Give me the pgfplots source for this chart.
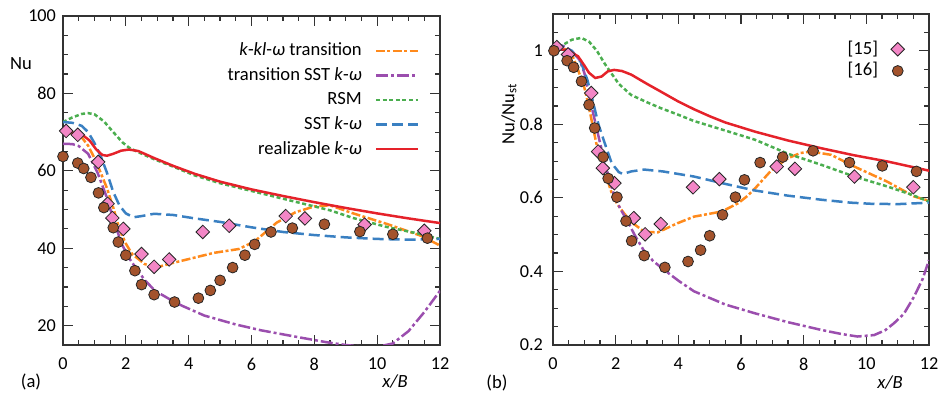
\documentclass[border=0pt]{standalone}
\usepackage{pgfplots}
\pgfplotsset{compat=1.18}
\usepackage{fontspec}
\setmainfont{Carlito}
\definecolor{cor}{HTML}{FF8A1C}
\definecolor{cpu}{HTML}{9B4EAE}
\definecolor{cgr}{HTML}{4BAE4F}
\definecolor{cbl}{HTML}{3A80C2}
\definecolor{cre}{HTML}{E5222A}
\definecolor{cpk}{HTML}{F386C6}
\definecolor{cbr}{HTML}{A3532C}
\pgfplotsset{
  myaxis/.style={
    scale only axis, clip=true,
    xmin=0, xmax=12, xtick={0,2,4,6,8,10,12},
    minor xtick={0.5,1,1.5,2.5,3,3.5,4.5,5,5.5,6.5,7,7.5,8.5,9,9.5,10.5,11,11.5},
    xtick pos=both, ytick pos=both, tick align=inside,
    major tick length=5pt, minor tick length=2.7pt,
    axis line style={black!80, line width=0.7pt},
    tick style={black!80, line width=0.6pt},
    tick label style={font=\fontsize{9.1}{11}\selectfont, /pgf/number format/assume math mode=true},
    xticklabel style={yshift=-3pt},
    legend plot pos=right,
    legend cell align=right,
    legend style={draw=none, fill=none, font=\fontsize{9.3}{11}\selectfont, column sep=6pt,
      nodes={inner sep=0.5pt, text height=7pt, text depth=2pt}},
  },
  sor/.style={cor, line width=1.25pt, dash pattern=on 4.5pt off 1.2pt on 1.5pt off 1.2pt},
  spu/.style={cpu, line width=1.25pt, dash pattern=on 6pt off 1.5pt on 1.5pt off 1.5pt},
  sgr/.style={cgr, line width=1.25pt, dash pattern=on 2pt off 1.3pt},
  sbl/.style={cbl, line width=1.25pt, dash pattern=on 5.5pt off 2.5pt},
  sre/.style={cre, line width=1.25pt},
  sdi/.style={only marks, mark=square*, mark size=2.4pt, mark options={fill=cpk, draw=black!85, line width=0.4pt, rotate=45}},
  sci/.style={only marks, mark=*, mark size=2.7pt, mark options={fill=cbr, draw=black!85, line width=0.4pt}},
}
\begin{document}
\begin{tikzpicture}[font=\fontsize{9.3}{11}\selectfont]
\useasboundingbox (0,0) rectangle (469pt,197pt);
% ---------------- (a)
\begin{axis}[myaxis, at={(31.5pt,24.5pt)}, anchor=south west,
  width=188.5pt, height=164.5pt,
  ymin=15, ymax=100, ytick={20,40,60,80,100},
  minor ytick={15,25,30,35,45,50,55,65,70,75,85,90,95},
  legend style={at={(0.962,0.938)}, anchor=north east, row sep=2.3pt},
  legend image code/.code={\draw[#1] (0pt,0pt)--(21pt,0pt);}]
\addplot[sor] coordinates {(0,69.8) (0.3,69.7) (0.6,68.6) (0.8,66.5) (1.0,63.3) (1.2,59.5) (1.4,55.5) (1.6,50.5) (1.8,44.8) (2.0,41.2) (2.2,38.5) (2.6,35.9) (3.0,35.1) (3.5,36.2) (4.2,37.6) (4.8,38.8) (5.6,39.8) (6.1,41.8) (6.5,44.5) (6.8,46.6) (7.4,49.3) (8.0,50.8) (8.5,51.1) (9.2,49.1) (10.3,46.3) (11.4,43.2) (12.0,40.7)};
\addlegendentry{\textit{k}-\textit{kl}-\textit{ω} transition}
\addplot[spu] coordinates {(0,67.0) (0.3,66.9) (0.5,66.4) (0.8,64.4) (1.1,59.5) (1.4,53.0) (1.6,47.5) (1.87,41.1) (2.1,37.5) (2.3,35.1) (2.6,31.8) (2.93,29.0) (3.4,26.8) (3.8,25.1) (4.5,22.6) (5.5,20.3) (6.3,18.8) (7.5,17.0) (8.4,15.7) (9.0,15.0) (9.5,14.6) (10.0,14.5) (10.5,15.4) (11.0,18.6) (11.5,23.5) (12.0,29.0)};
\addlegendentry{transition SST \textit{k}-\textit{ω}}
\addplot[sgr] coordinates {(0,72.6) (0.3,73.8) (0.6,74.7) (0.8,74.9) (1.0,74.6) (1.3,72.8) (1.6,70.0) (1.9,67.3) (2.1,66.0) (2.4,64.8) (2.9,63.0) (3.5,61.1) (4.2,58.8) (5.0,56.8) (6.0,54.8) (7.0,52.8) (8.0,50.8) (8.5,49.8) (9.24,47.8) (10.3,45.5) (11.36,43.7) (12,42.4)};
\addlegendentry{RSM}
\addplot[sbl] coordinates {(0,72.6) (0.3,72.4) (0.6,71.6) (0.8,70.0) (1.0,67.2) (1.2,63.8) (1.4,59.5) (1.6,54.5) (1.8,51.0) (2.0,49.0) (2.24,48.0) (2.5,48.3) (2.9,48.9) (3.5,48.6) (4.2,47.7) (5.0,46.8) (6.0,45.4) (7.0,44.2) (8.0,43.4) (9.0,42.8) (10.0,42.4) (11.0,42.2) (12.0,42.4)};
\addlegendentry{SST \textit{k}-\textit{ω}}
\addplot[sre] coordinates {(0,70.0) (0.3,69.9) (0.6,69.4) (0.85,67.8) (1.05,65.6) (1.25,64.1) (1.4,63.9) (1.6,64.4) (1.85,65.2) (2.1,65.5) (2.4,65.1) (2.9,63.3) (3.5,61.3) (4.2,59.2) (5.0,57.2) (6.0,55.2) (7.0,53.5) (8.0,51.9) (9.0,50.4) (10.0,49.0) (11.0,47.7) (12.0,46.5)};
\addlegendentry{realizable \textit{k}-\textit{ω}}
\addplot[sdi, forget plot] coordinates {(0.1,70.3) (0.47,69.3) (1.12,62.3) (1.42,51.5) (1.57,47.8) (1.92,45.0) (2.5,38.5) (2.9,35.2) (3.38,37.1) (4.45,44.2) (5.29,45.8) (7.09,48.3) (7.7,47.7) (9.6,46.1) (11.5,44.5)};
\addplot[sci, forget plot] coordinates {(0,63.7) (0.47,62.0) (0.66,60.6) (0.89,58.3) (1.13,54.3) (1.3,50.5) (1.6,45.3) (1.76,41.6) (2.0,38.2) (2.29,34.2) (2.5,30.6) (2.9,28.0) (3.55,26.1) (4.31,27.1) (4.69,29.1) (5.0,31.7) (5.4,35.0) (5.79,38.2) (6.1,41.0) (6.62,44.2) (7.3,45.2) (8.32,46.2) (9.45,44.3) (10.5,43.6) (11.6,42.6)};
\end{axis}
% ---------------- (b)
\begin{axis}[myaxis, at={(276.5pt,24.5pt)}, anchor=south west,
  width=188pt, height=165.5pt,
  ymin=0.2, ymax=1.1, ytick={0.2,0.4,0.6,0.8,1},
  minor ytick={0.25,0.3,0.35,0.45,0.5,0.55,0.65,0.7,0.75,0.85,0.9,0.95,1.05,1.1},
  yticklabel style={xshift=-1.5pt},
  legend style={at={(0.952,0.937)}, anchor=north east, row sep=0.85pt},
  legend image code/.code={\draw[#1] plot coordinates {(0pt,0pt)};}]
\addplot[sor, forget plot] coordinates {(0,1.01) (0.3,1.008) (0.5,1.0) (0.65,0.98) (0.8,0.948) (1.0,0.9) (1.12,0.858) (1.38,0.749) (1.55,0.7) (1.7,0.658) (1.91,0.604) (2.07,0.581) (2.25,0.56) (2.49,0.535) (2.91,0.508) (3.34,0.506) (3.97,0.531) (4.5,0.549) (5.39,0.563) (5.92,0.586) (6.2,0.605) (6.45,0.626) (6.98,0.676) (7.5,0.708) (7.9,0.722) (8.24,0.726) (8.88,0.717) (9.62,0.685) (10.67,0.644) (11.52,0.604) (12,0.592)};
\addplot[spu, forget plot] coordinates {(0,1.016) (0.3,1.014) (0.6,1.0) (0.85,0.975) (1.0,0.94) (1.2,0.86) (1.5,0.75) (1.75,0.665) (1.96,0.604) (2.15,0.57) (2.39,0.535) (2.6,0.5) (2.91,0.455) (3.2,0.428) (3.55,0.404) (4.0,0.375) (4.5,0.346) (5.5,0.31) (6.45,0.286) (7.5,0.262) (8.56,0.241) (9.2,0.23) (9.72,0.223) (10.25,0.227) (10.6,0.24) (10.88,0.259) (11.2,0.285) (11.52,0.331) (11.8,0.38) (12,0.431)};
\addplot[sgr, forget plot] coordinates {(0,1.0) (0.3,1.015) (0.6,1.03) (0.9,1.035) (1.15,1.025) (1.4,1.0) (1.65,0.965) (1.86,0.939) (2.1,0.91) (2.49,0.88) (3.0,0.86) (3.44,0.844) (4.0,0.826) (4.5,0.809) (5.5,0.783) (6.45,0.758) (7.5,0.72) (8.56,0.69) (9.62,0.658) (10.67,0.631) (11.4,0.61) (12,0.59)};
\addplot[sbl, forget plot] coordinates {(0,1.014) (0.3,1.012) (0.6,1.0) (0.9,0.968) (1.1,0.92) (1.28,0.86) (1.45,0.8) (1.65,0.749) (1.85,0.7) (1.96,0.685) (2.1,0.67) (2.23,0.665) (2.5,0.672) (2.91,0.677) (3.5,0.672) (4.5,0.658) (5.5,0.638) (6.45,0.62) (7.5,0.606) (8.56,0.595) (9.5,0.587) (10.14,0.584) (11,0.583) (12,0.587)};
\addplot[sre, forget plot] coordinates {(0,1.005) (0.3,1.004) (0.5,1.0) (0.8,0.985) (1.0,0.96) (1.15,0.94) (1.35,0.926) (1.55,0.93) (1.75,0.944) (1.95,0.948) (2.2,0.945) (2.5,0.935) (3.0,0.91) (3.44,0.889) (4.0,0.862) (4.5,0.841) (5.0,0.822) (5.5,0.805) (6.45,0.78) (7.5,0.756) (8.56,0.735) (9.6,0.716) (10.67,0.699) (12,0.674)};
\addplot[sdi] coordinates {(0.12,1.01) (0.48,0.99) (1.22,0.885) (1.44,0.726) (1.59,0.681) (1.96,0.64) (2.58,0.545) (2.94,0.501) (3.44,0.529) (4.47,0.629) (5.31,0.651) (7.14,0.685) (7.72,0.679) (9.62,0.658) (11.5,0.629)};
\addlegendentry{[15]}
\addplot[sci] coordinates {(0.03,1.0) (0.45,0.973) (0.66,0.955) (0.91,0.917) (1.15,0.853) (1.33,0.79) (1.6,0.711) (1.76,0.653) (2.04,0.602) (2.33,0.537) (2.51,0.483) (2.91,0.443) (3.57,0.411) (4.31,0.427) (4.71,0.458) (5.0,0.497) (5.41,0.554) (5.82,0.602) (6.11,0.649) (6.61,0.696) (7.33,0.711) (8.3,0.728) (9.46,0.696) (10.51,0.687) (11.6,0.672)};
\addlegendentry{[16]}
\end{axis}
\node at (10.5pt,165pt) {Nu};
\node at (15.5pt,6pt) {(a)};
\node at (197.5pt,6pt) {\textit{x/B}};
\node at (248.5pt,5.5pt) {(b)};
\node at (445pt,5.5pt) {\textit{x/B}};
\node[rotate=90] at (254.5pt,140pt) {Nu/Nu\textsubscript{st}};
\end{tikzpicture}
\end{document}
